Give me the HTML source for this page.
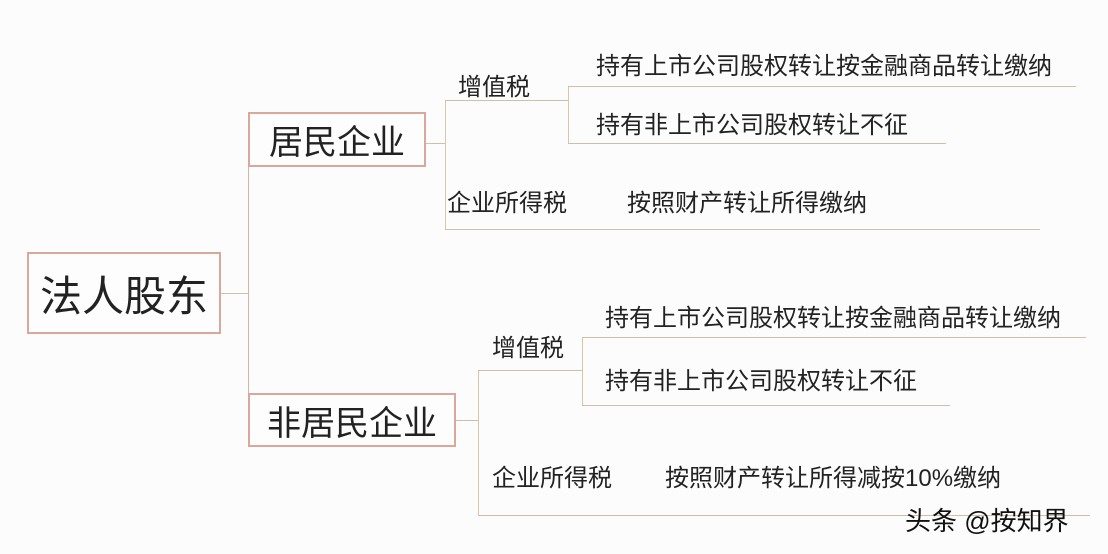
<!DOCTYPE html>
<html><head><meta charset="utf-8"><style>
body{margin:0;width:1108px;height:554px;background:#fcfcfc;position:relative;overflow:hidden;font-family:"Liberation Sans","Noto Sans CJK SC",sans-serif;color:#222}
.t{position:absolute;white-space:nowrap;line-height:1;font-size:24px}
.b{position:absolute;border:2px solid #d9a89a;box-sizing:border-box;background:#fdfdfd;display:flex;align-items:center;justify-content:center}
.h{position:absolute;height:0;border-top:1.5px solid #cdbfa8}
.v{position:absolute;width:0;border-left:1.5px solid #d8c6a4}
</style></head><body>
<!-- main -->
<div class="b" style="left:27px;top:252px;width:194px;height:82px;font-size:42px">法人股东</div>
<div class="h" style="left:221px;top:293px;width:27px"></div>
<div class="v" style="left:248px;top:139px;height:282px;border-color:#e0b0a8"></div>
<div class="h" style="left:248px;top:139px;width:10px"></div>
<div class="h" style="left:248px;top:420px;width:10px"></div>

<!-- resident -->
<div class="b" style="left:248px;top:112px;width:178px;height:55px;font-size:34px">居民企业</div>
<div class="h" style="left:426px;top:143px;width:19px"></div>
<div class="v" style="left:445px;top:100px;height:130px"></div>
<div class="h" style="left:445px;top:100px;width:123px"></div>
<div class="t" style="left:458px;top:76px">增值税</div>
<div class="v" style="left:568px;top:86px;height:58px"></div>
<div class="h" style="left:568px;top:86px;width:508px"></div>
<div class="t" style="left:596px;top:55px">持有上市公司股权转让按金融商品转让缴纳</div>
<div class="h" style="left:568px;top:143px;width:378px"></div>
<div class="t" style="left:596px;top:114px">持有非上市公司股权转让不征</div>
<div class="h" style="left:445px;top:229px;width:595px"></div>
<div class="t" style="left:447px;top:192px">企业所得税</div>
<div class="t" style="left:627px;top:192px">按照财产转让所得缴纳</div>

<!-- non-resident -->
<div class="b" style="left:248px;top:393px;width:208px;height:54px;font-size:34px">非居民企业</div>
<div class="h" style="left:456px;top:420px;width:22px"></div>
<div class="v" style="left:478px;top:370px;height:146px"></div>
<div class="h" style="left:478px;top:370px;width:104px"></div>
<div class="t" style="left:492px;top:337px">增值税</div>
<div class="v" style="left:582px;top:337px;height:69px"></div>
<div class="h" style="left:582px;top:337px;width:504px"></div>
<div class="t" style="left:605px;top:307px">持有上市公司股权转让按金融商品转让缴纳</div>
<div class="h" style="left:582px;top:405px;width:368px"></div>
<div class="t" style="left:605px;top:370px">持有非上市公司股权转让不征</div>
<div class="h" style="left:478px;top:515px;width:612px"></div>
<div class="t" style="left:492px;top:467px">企业所得税</div>
<div class="t" style="left:665px;top:467px">按照财产转让所得减按10%缴纳</div>

<div class="t" style="left:905px;top:508px;font-size:26px;color:#111">头条 @按知界</div>
</body></html>
